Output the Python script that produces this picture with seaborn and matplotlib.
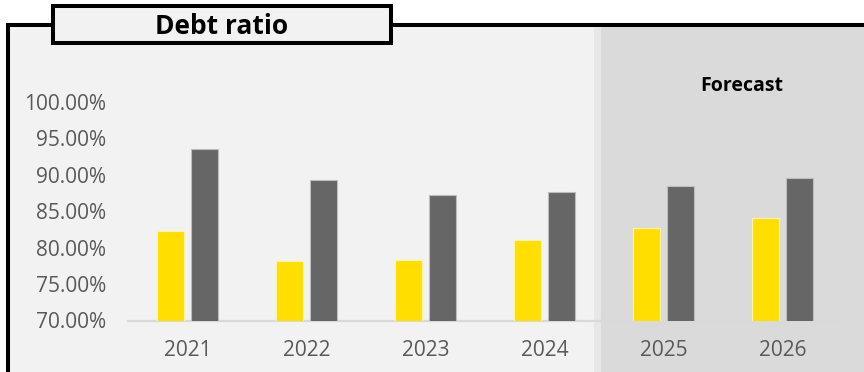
import matplotlib
matplotlib.use("Agg")
import matplotlib.pyplot as plt
from matplotlib.patches import Rectangle
from matplotlib.ticker import PercentFormatter
import seaborn as sns
import pandas as pd

# Debt ratio by year, actuals and forecast
years = ["2021", "2022", "2023", "2024", "2025", "2026"]
company = [0.823, 0.782, 0.783, 0.811, 0.827, 0.841]
peers = [0.936, 0.893, 0.872, 0.876, 0.885, 0.895]
series_names = ["Company", "Peers"]
y_ticks = [0.70, 0.75, 0.80, 0.85, 0.90, 0.95, 1.00]

YELLOW = "#FFDE00"
GREY = "#666666"
TEXT = "#595959"

sns.set_theme(style="white")
plt.rcParams["font.family"] = ["Open Sans", "DejaVu Sans"]

df = pd.DataFrame({
    "year": years * 2,
    "value": company + peers,
    "series": [series_names[0]] * len(years) + [series_names[1]] * len(years),
})

W, H = 864, 372
fig = plt.figure(figsize=(W / 100, H / 100), dpi=100)
fig.patch.set_facecolor("white")


def px_rect(x0, y0, x1, y1, **kw):
    """Rectangle given in pixel coordinates measured from the top-left corner."""
    return Rectangle((x0 / W, 1 - y1 / H), (x1 - x0) / W, (y1 - y0) / H,
                     transform=fig.transFigure, **kw)


# panel background and frame
fig.patches.append(px_rect(8, 25, W + 20, H + 20, facecolor="#f2f2f2",
                           edgecolor="black", linewidth=2.9, zorder=-10))
# forecast shading
fig.patches.append(px_rect(594, 27, W + 20, H + 20, facecolor="#e7e7e7",
                           edgecolor="none", zorder=-9))
fig.patches.append(px_rect(601, 27, W + 20, H + 20, facecolor="#dadada",
                           edgecolor="none", zorder=-8))
# title box
fig.patches.append(px_rect(53, 6, 391, 43, facecolor="#f2f2f2",
                           edgecolor="black", linewidth=2.9, zorder=5))
fig.text(222 / W, 1 - 26 / H, "Debt ratio", ha="center", va="center",
         fontsize=19, fontweight="bold", color="black", zorder=6)
fig.text(742 / W, 1 - 86 / H, "Forecast", ha="center", va="center",
         fontsize=14, fontweight="bold", color="black")

ax = fig.add_axes([128 / W, 1 - 320.5 / H, (842 - 128) / W, (320.5 - 102) / H])
ax.set_facecolor("none")

sns.barplot(data=df, x="year", y="value", hue="series",
            palette=[YELLOW, GREY], saturation=1, width=0.572, gap=0.22,
            linewidth=0.8, edgecolor="#bdbdbd", legend=False, ax=ax,
            zorder=3)
for bar in ax.patches[:len(years)]:
    bar.set_edgecolor("#fff3a6")

ax.set_ylim(0.70, 1.00)
ax.set_xlim(-0.5, len(years) - 0.5)
ax.set_yticks(y_ticks)
ax.yaxis.set_major_formatter(PercentFormatter(1.0, decimals=2))
ax.set_xlabel("")
ax.set_ylabel("")
ax.tick_params(axis="y", length=0, pad=16, labelsize=15, labelcolor=TEXT)
ax.tick_params(axis="x", length=0, pad=14, labelsize=15, labelcolor=TEXT)

for side in ["top", "right", "left"]:
    ax.spines[side].set_visible(False)
ax.spines["bottom"].set_color("#d9d9d9")
ax.spines["bottom"].set_linewidth(1.6)
ax.spines["bottom"].set_zorder(2)

fig.savefig("out.png", dpi=100)
